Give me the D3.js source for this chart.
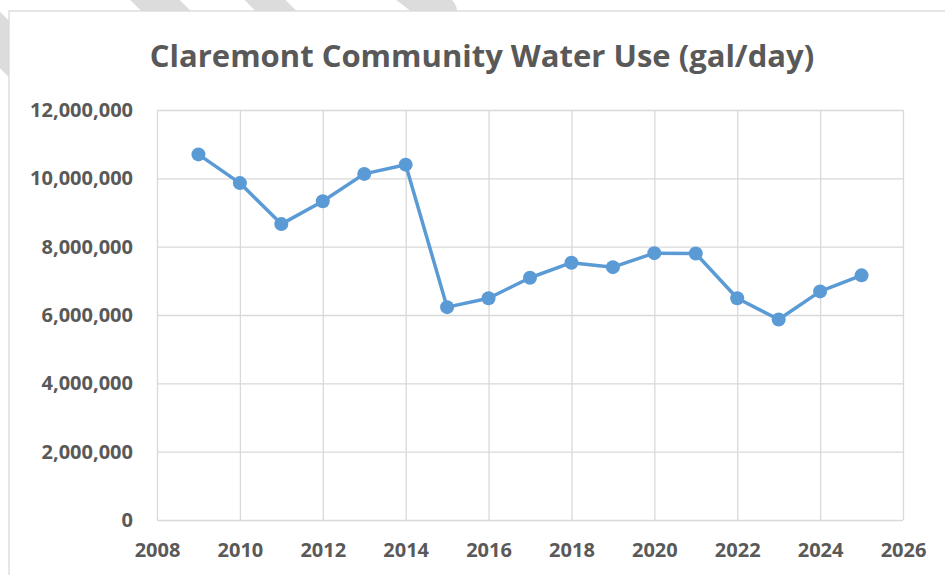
<!DOCTYPE html>
<html lang="en">
<head>
    <meta charset="UTF-8">
    <title>Claremont Community Water Use</title>
    <script src="https://d3js.org/d3.v7.min.js"></script>
    <style>
        body {
            margin: 0;
            background: #fff;
            font-family: "Open Sans", Arial, sans-serif;
        }
        .axis text {
            font-family: "Open Sans", Arial, sans-serif;
            font-size: 20px;
            font-weight: 700;
            fill: #595959;
        }
        .axis .domain {
            display: none;
        }
        .axis line {
            stroke: #d9d9d9;
            stroke-width: 1.3px;
        }
    </style>
</head>
<body>
<svg id="chart"></svg>

<script>
    // data
    const years = [2009, 2010, 2011, 2012, 2013, 2014, 2015, 2016, 2017,
                   2018, 2019, 2020, 2021, 2022, 2023, 2024, 2025];
    const galPerDay = [10700000, 9860000, 8660000, 9330000, 10130000, 10400000, 6230000, 6490000, 7090000,
                       7530000, 7400000, 7810000, 7800000, 6490000, 5870000, 6690000, 7160000];
    const xTicks = [2008, 2010, 2012, 2014, 2016, 2018, 2020, 2022, 2024, 2026];
    const yTicks = [0, 2000000, 4000000, 6000000, 8000000, 10000000, 12000000];
    const title = "Claremont Community Water Use (gal/day)";

    const W = 945, H = 575;
    const margin = { top: 110, right: 42, bottom: 55, left: 157 };
    const width = W - margin.left - margin.right;
    const height = H - margin.top - margin.bottom;

    const svg = d3.select("#chart")
        .attr("width", W)
        .attr("height", H);

    // grey diagonal stripes behind the chart frame
    const stripes = [
        [[100, -55], [215, 60], 35],
        [[220, -45], [320, 55], 29],
        [[385, -30], [440, 12], 34],
        [[-60, -20], [60, 100], 40]
    ];
    svg.append("g")
        .selectAll("line")
        .data(stripes)
        .enter().append("line")
        .attr("x1", d => d[0][0])
        .attr("y1", d => d[0][1])
        .attr("x2", d => d[1][0])
        .attr("y2", d => d[1][1])
        .attr("stroke", "#dcdcdc")
        .attr("stroke-width", d => d[2])
        .attr("stroke-linecap", "round");

    // chart frame
    svg.append("rect")
        .attr("x", 9)
        .attr("y", 11)
        .attr("width", 980)
        .attr("height", 600)
        .attr("fill", "#fff")
        .attr("stroke", "#d9d9d9")
        .attr("stroke-width", 1.3);

    svg.append("text")
        .attr("x", 482)
        .attr("y", 67)
        .attr("text-anchor", "middle")
        .style("font-size", "31px")
        .style("font-weight", 700)
        .style("fill", "#595959")
        .text(title);

    const g = svg.append("g")
        .attr("transform", `translate(${margin.left},${margin.top})`);

    const x = d3.scaleLinear()
        .domain([2008, 2026])
        .range([0, width]);

    const y = d3.scaleLinear()
        .domain([0, 12000000])
        .range([height, 0]);

    g.append("g")
        .attr("class", "axis")
        .call(d3.axisLeft(y)
            .tickValues(yTicks)
            .tickFormat(d3.format(","))
            .tickSize(-width)
            .tickPadding(24));

    g.append("g")
        .attr("class", "axis")
        .attr("transform", `translate(0,${height})`)
        .call(d3.axisBottom(x)
            .tickValues(xTicks)
            .tickFormat(d3.format("d"))
            .tickSize(-height)
            .tickPadding(23));

    const points = years.map((yr, i) => ({ year: yr, value: galPerDay[i] }));

    const line = d3.line()
        .x(d => x(d.year))
        .y(d => y(d.value));

    g.append("path")
        .datum(points)
        .attr("fill", "none")
        .attr("stroke", "#5b9bd5")
        .attr("stroke-width", 3.5)
        .attr("stroke-linejoin", "round")
        .attr("d", line);

    g.selectAll(".dot")
        .data(points)
        .enter().append("circle")
        .attr("class", "dot")
        .attr("cx", d => x(d.year))
        .attr("cy", d => y(d.value))
        .attr("r", 7)
        .style("fill", "#5b9bd5");
</script>
</body>
</html>
